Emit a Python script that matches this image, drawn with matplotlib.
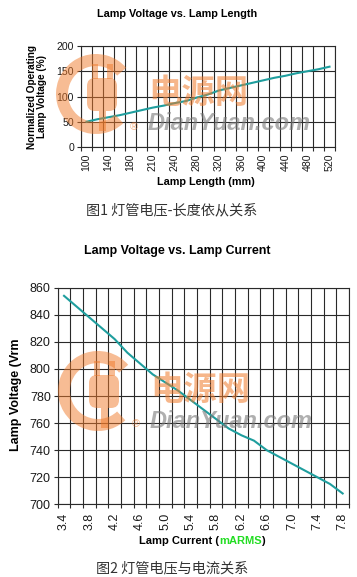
import numpy as np
import matplotlib
matplotlib.use("Agg")
import matplotlib.pyplot as plt
from matplotlib.patches import Wedge, Rectangle, FancyBboxPatch
from matplotlib.transforms import Bbox

plt.rcParams['font.family'] = ['Liberation Sans', 'DejaVu Sans']

# chart 1: lamp length (category axis, every other label shown)
length_cats = ["100", "120", "140", "160", "180", "195", "210", "225", "240", "260", "280", "300",
               "320", "340", "360", "380", "400", "420", "440", "460", "480", "500", "520"]
length_volt = [50, 55, 59, 63, 68, 73, 78, 82, 87, 91, 98, 104,
               112, 117, 122, 127, 132, 137, 141, 146, 150, 154, 159]
length_yticks = [0, 50, 100, 150, 200]

# chart 2: lamp current
current_cats = ["3.4", "3.6", "3.8", "4.0", "4.2", "4.4", "4.6", "4.8", "5.0", "5.2", "5.4", "5.6",
                "5.8", "6.0", "6.2", "6.4", "6.6", "6.8", "7.0", "7.2", "7.4", "7.6", "7.8"]
current_volt = [854, 846, 838, 830, 822, 812, 804, 796, 790, 784, 777, 770,
                763, 756, 751, 747, 740, 735, 730, 725, 720, 715, 708]
current_yticks = [700, 720, 740, 760, 780, 800, 820, 840, 860]

W, H = 357, 577
TEAL = "#1f9e9e"
GRID = "#2a2a2a"

fig = plt.figure(figsize=(W / 100, H / 100), dpi=100)


def px_rect(left, top, right, bottom):
    return [left / W, 1 - bottom / H, (right - left) / W, (bottom - top) / H]


def cat_chart(ax, cats, vals, yticks, fs, xpad):
    n = len(cats)
    x = np.arange(n)
    ax.plot(x, vals, color=TEAL, lw=1.5, zorder=3)
    ax.set_xlim(-0.5, n - 0.5)
    ax.set_ylim(yticks[0], yticks[-1])
    ax.set_yticks(yticks)
    ax.set_xticks(x[::2])
    ax.set_xticklabels(cats[::2], rotation=90)
    ax.set_xticks(np.arange(n + 1) - 0.5, minor=True)
    ax.grid(True, which='minor', axis='x', color=GRID, lw=0.8)
    ax.grid(True, which='major', axis='y', color=GRID, lw=0.8)
    ax.tick_params(axis='x', which='major', length=0, pad=xpad, labelsize=fs, labelcolor='#1a1a1a')
    ax.tick_params(axis='x', which='minor', length=3, width=0.8, color=GRID)
    ax.tick_params(axis='y', length=3, width=0.8, color=GRID, pad=2, labelsize=fs, labelcolor='#1a1a1a')
    for s in ax.spines.values():
        s.set_color(GRID)
        s.set_linewidth(0.8)


CJK = ['Noto Sans CJK SC', 'DejaVu Sans']

############################# chart 1 ######################################
ax1 = fig.add_axes(px_rect(81, 46, 335, 147))
cat_chart(ax1, length_cats, length_volt, length_yticks, 7.6, 5)
fig.text(177 / W, 1 - 14 / H, "Lamp Voltage vs. Lamp Length", ha='center', va='center',
         fontsize=7.8, fontweight='bold')
fig.text(37 / W, 1 - 97 / H, "Normalized Operating\nLamp Voltage (%)", ha='center', va='center',
         rotation=90, fontsize=7.2, fontweight='bold', linespacing=1.0)
fig.text(206 / W, 1 - 182 / H, "Lamp Length (mm)", ha='center', va='center',
         fontsize=7.8, fontweight='bold')
fig.text(172 / W, 1 - 210 / H, "图1 灯管电压-长度依从关系", ha='center', va='center',
         fontsize=10.2, color='#333333', family=CJK)

############################# chart 2 ######################################
ax2 = fig.add_axes(px_rect(57.7, 287.7, 349, 504.3))
cat_chart(ax2, current_cats, current_volt, current_yticks, 9, 6)
fig.text(177.5 / W, 1 - 251 / H, "Lamp Voltage vs. Lamp Current", ha='center', va='center',
         fontsize=8.9, fontweight='bold')
yl = fig.text(16 / W, 1 - 451 / H, "Lamp Voltage (Vrms)", ha='center', va='bottom',
              rotation=90, fontsize=9, fontweight='bold')
yl.set_clip_box(Bbox([[0, 0], [W, H - 340]]))
yl.set_clip_on(True)

# x label with green unit
parts = [("Lamp Current (", 'black'), ("mARMS", '#22dd22'), (")", 'black')]
texts = [fig.text(0, 1 - 541 / H, s, ha='left', va='center', fontsize=8,
                  fontweight='bold', color=c) for s, c in parts]
r = fig.canvas.get_renderer()
widths = [t.get_window_extent(renderer=r).width for t in texts]
x0 = 202 - sum(widths) / 2
for t, w in zip(texts, widths):
    t.set_x(x0 / W)
    x0 += w

fig.text(172 / W, 1 - 568 / H, "图2 灯管电压与电流关系", ha='center', va='center',
         fontsize=10.2, color='#333333', family=CJK)

############################# watermark ######################################
wm = fig.add_axes([0, 0, 1, 1], zorder=10)
wm.set_xlim(0, W)
wm.set_ylim(H, 0)
wm.axis('off')
ORANGE = "#f07a2a"


def watermark(dx, dy):
    cx, cy = 96 + dx, 94 + dy
    wm.add_patch(Wedge((cx, cy), 40, 47, 319, width=12, color=ORANGE, alpha=0.5, lw=0))
    wm.add_patch(FancyBboxPatch((87 + dx, 78 + dy), 30, 33, boxstyle="round,pad=0,rounding_size=8",
                                color=ORANGE, alpha=0.5, lw=0))
    wm.add_patch(Rectangle((92 + dx, 64 + dy), 6, 15, color=ORANGE, alpha=0.5, lw=0))
    wm.add_patch(Rectangle((107 + dx, 64 + dy), 6, 15, color=ORANGE, alpha=0.5, lw=0))
    wm.add_patch(Rectangle((99 + dx, 111 + dy), 7, 20, color=ORANGE, alpha=0.5, lw=0))
    wm.text(134 + dx, 127 + dy, "®", ha='center', va='center', fontsize=8, color=ORANGE, alpha=0.55)
    wm.text(198 + dx, 93 + dy, "电源网", ha='center', va='center', fontsize=24, fontweight='bold',
            color=ORANGE, alpha=0.55, family=['Noto Sans CJK SC'])
    wm.text(229 + dx, 124 + dy, "DianYuan.com", ha='center', va='center', fontsize=17,
            fontweight='bold', fontstyle='italic', color='#7a7a7a', alpha=0.6)


watermark(0, 0)
watermark(2, 297)

fig.savefig("out.png", dpi=100)
